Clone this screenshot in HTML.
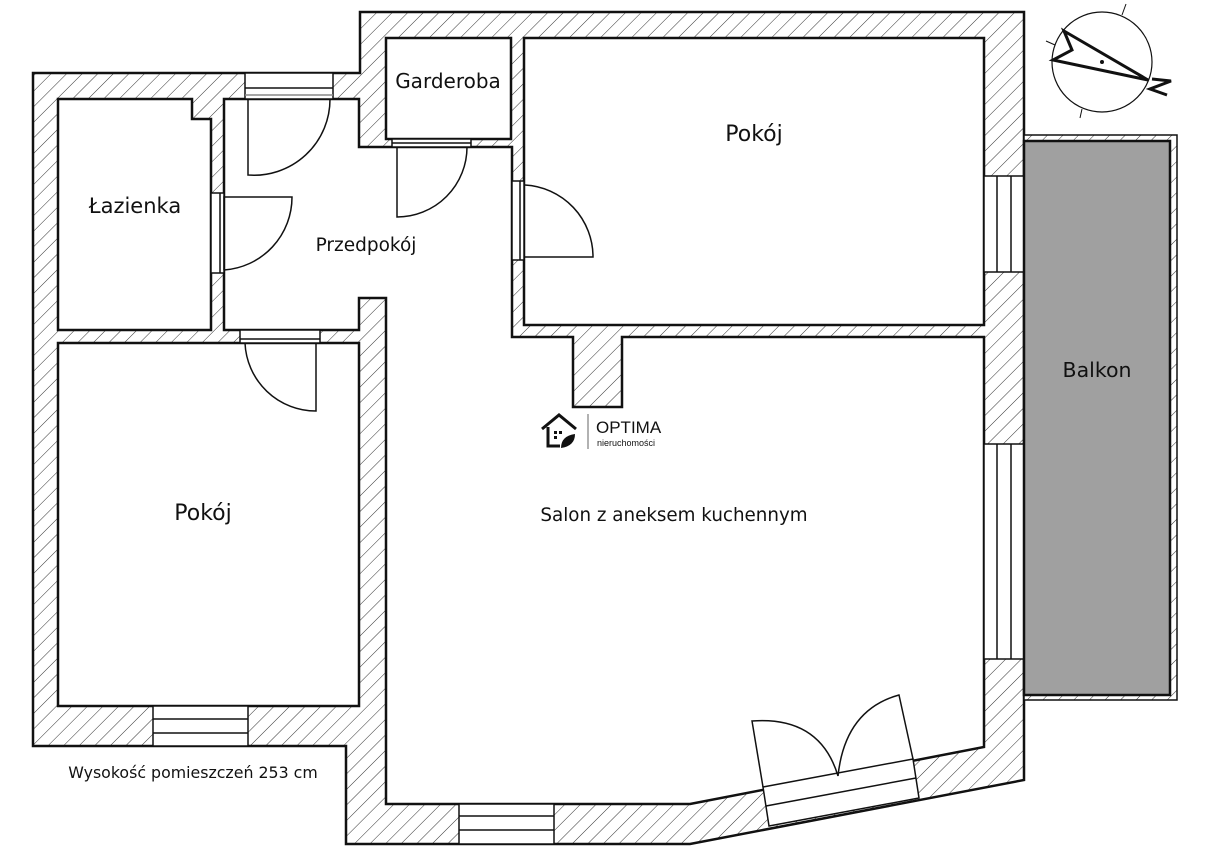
<!DOCTYPE html>
<html><head><meta charset="utf-8"><style>
html,body{margin:0;padding:0;background:#fff;}
svg{display:block;}
text{font-family:"DejaVu Sans","Liberation Sans",sans-serif;fill:#111;}
</style></head><body>
<svg width="1220" height="863" viewBox="0 0 1220 863" xmlns="http://www.w3.org/2000/svg">
<defs>
<pattern id="h" patternUnits="userSpaceOnUse" width="11" height="11" patternTransform="rotate(45)">
<rect width="11" height="11" fill="#fff"/><line x1="0" y1="0" x2="0" y2="11" stroke="#333" stroke-width="1"/>
</pattern>
</defs>
<polygon points="33,73 360,73 360,12 1024,12 1024,780 690,844 346,844 346,746 33,746" fill="url(#h)" stroke="#111" stroke-width="2.5"/>
<g fill="#fff" stroke="#111" stroke-width="2.5">
<polygon points="58,99 192,99 192,119 211,119 211,330 58,330"/>
<rect x="386" y="38" width="125" height="101"/>
<rect x="524" y="38" width="460" height="287"/>
<rect x="58" y="343" width="301" height="363"/>
<polygon points="224,99 359,99 359,147 512,147 512,337 573,337 573,407 622,407 622,337 984,337 984,747 690,804 386,804 386,298 359,298 359,330 224,330"/>
</g>
<g fill="#fff" stroke="#111" stroke-width="1.5">
<rect x="245" y="73" width="88" height="26"/><line x1="245" y1="88" x2="333" y2="88"/><line x1="245" y1="95" x2="333" y2="95" stroke="#888"/>
<rect x="153" y="706" width="95" height="40"/><line x1="153" y1="719" x2="248" y2="719"/><line x1="153" y1="733" x2="248" y2="733"/>
<rect x="459" y="804" width="95" height="40"/><line x1="459" y1="816" x2="554" y2="816"/><line x1="459" y1="830" x2="554" y2="830"/>
<rect x="984" y="176" width="40" height="96"/><line x1="997" y1="176" x2="997" y2="272"/><line x1="1011" y1="176" x2="1011" y2="272"/>
<rect x="984" y="444" width="40" height="215"/><line x1="997" y1="444" x2="997" y2="659"/><line x1="1011" y1="444" x2="1011" y2="659"/>
<rect x="211" y="193" width="13" height="80"/><line x1="220" y1="193" x2="220" y2="273"/>
<rect x="512" y="181" width="12" height="79"/><line x1="520" y1="181" x2="520" y2="260"/>
<rect x="392" y="139" width="79" height="8"/><line x1="392" y1="143" x2="471" y2="143"/>
<rect x="240" y="330" width="80" height="13"/><line x1="240" y1="339" x2="320" y2="339"/>
<polygon points="763,787 913,759 919,798 769,826"/>
<line x1="766" y1="806" x2="916" y2="778"/>
</g>
<g fill="none" stroke="#111" stroke-width="1.5">
<path d="M248,99 L248,175 A76,76 0 0 0 330,99"/>
<path d="M224,270 L224,197 L292,197 A73,73 0 0 1 224,270"/>
<path d="M397,147 L397,217 A70,70 0 0 0 467,147"/>
<path d="M525,257 L593,257 A72,72 0 0 0 525,185"/>
<path d="M316,343 L316,411 A71,71 0 0 1 245,343"/>
<path d="M763,787 L752,721 Q820,716 838,776"/>
<path d="M913,759 L899,695 Q845,710 838,776"/>
</g>
<rect x="1024" y="135" width="153" height="565" fill="url(#h)" stroke="#111" stroke-width="1.5"/>
<rect x="1024" y="141" width="146" height="554" fill="#a0a0a0" stroke="#111" stroke-width="2.5"/>
<circle cx="1102" cy="62" r="50" fill="none" stroke="#111" stroke-width="1.2"/>
<g stroke="#111" stroke-width="1"><line x1="1122" y1="15" x2="1126" y2="4"/><line x1="1082" y1="109" x2="1080" y2="118"/><line x1="1055" y1="45" x2="1046" y2="41"/></g>
<polygon points="1064,31 1072,50 1053,60 1148,80" fill="none" stroke="#111" stroke-width="3"/>
<polyline points="1152,79 1171,81 1150,89 1167,95" fill="none" stroke="#111" stroke-width="3"/>
<circle cx="1102" cy="62" r="2" fill="#111"/>
<text x="448" y="88" font-size="20" text-anchor="middle">Garderoba</text>
<text x="754" y="141" font-size="22" text-anchor="middle">Pokój</text>
<text x="135" y="213" font-size="21" text-anchor="middle">Łazienka</text>
<text x="366" y="251" font-size="18.5" text-anchor="middle">Przedpokój</text>
<text x="203" y="520" font-size="22" text-anchor="middle">Pokój</text>
<text x="674" y="521" font-size="18.3" text-anchor="middle">Salon z aneksem kuchennym</text>
<text x="1097" y="377" font-size="20.5" text-anchor="middle">Balkon</text>
<text x="193" y="778" font-size="15.8" text-anchor="middle">Wysokość pomieszczeń 253 cm</text>
<g>
<polyline points="542,429 559,415 576,429" fill="none" stroke="#111" stroke-width="3"/>
<path d="M548,427 L548,446 L560,446" fill="none" stroke="#111" stroke-width="3"/>
<rect x="554" y="431" width="3" height="3" fill="#111"/><rect x="559" y="431" width="3" height="3" fill="#111"/><rect x="554" y="436" width="3" height="3" fill="#111"/>
<path d="M561,448 Q561,436 575,434 Q575,446 561,448 Z" fill="#111"/>
<line x1="588" y1="414" x2="588" y2="449" stroke="#666" stroke-width="1"/>
<text x="596" y="433" font-size="17" style="font-family:'Liberation Sans',sans-serif" fill="#222">OPTIMA</text>
<text x="597" y="446" font-size="9" style="font-family:'Liberation Sans',sans-serif">nieruchomości</text>
</g>
</svg>
</body></html>
